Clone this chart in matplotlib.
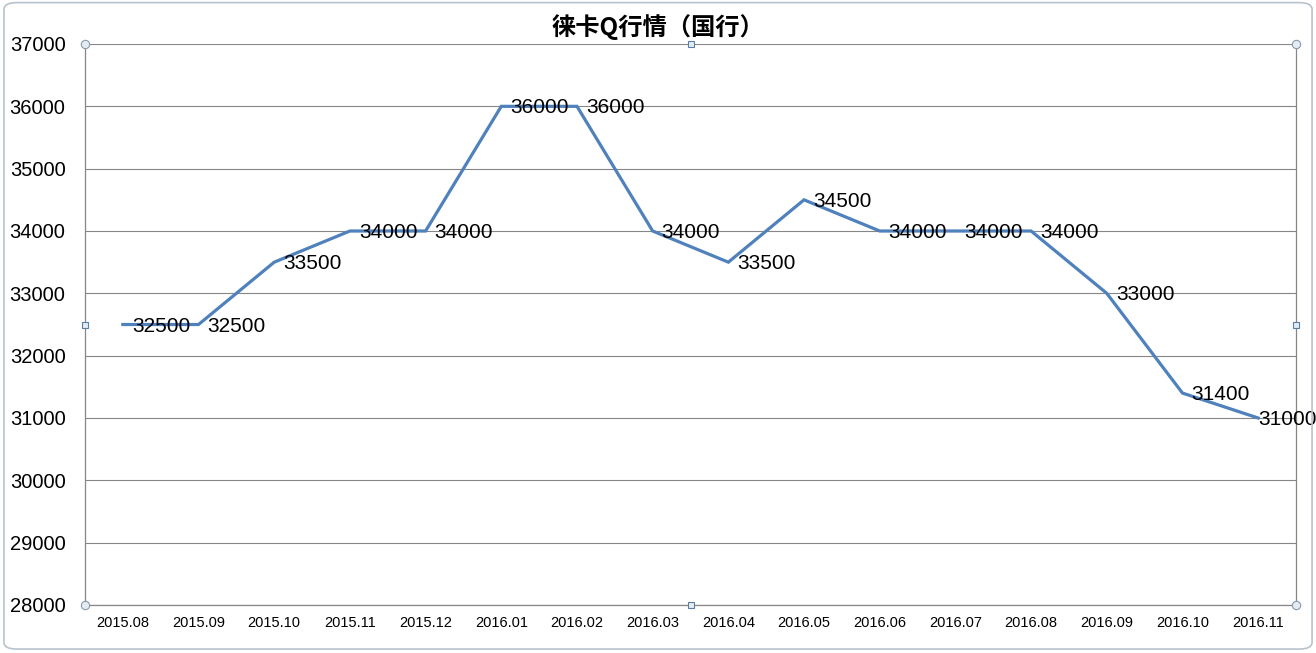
import matplotlib
matplotlib.use("Agg")
import matplotlib.pyplot as plt
from matplotlib.patches import FancyBboxPatch

months = ["2015.08", "2015.09", "2015.10", "2015.11", "2015.12", "2016.01",
          "2016.02", "2016.03", "2016.04", "2016.05", "2016.06", "2016.07",
          "2016.08", "2016.09", "2016.10", "2016.11"]
prices = [32500, 32500, 33500, 34000, 34000, 36000, 36000, 34000,
          33500, 34500, 34000, 34000, 34000, 33000, 31400, 31000]
title = "徕卡Q行情（国行）"

plt.rcParams['font.family'] = ['Liberation Sans', 'Noto Sans CJK SC', 'DejaVu Sans']

fig = plt.figure(figsize=(13.16, 6.53), dpi=100)
ax = fig.add_axes([85/1316, 1-605/653, (1296-85)/1316, (605-44)/653])

x = range(len(months))
ax.plot(x, prices, color='#4F81BD', lw=2.3, solid_joinstyle='miter', zorder=3)
for i, v in zip(x, prices):
    # last label gets pushed left so it stays inside the chart, like Excel does
    dx = 6.5 if i < len(months) - 1 else 0
    ax.annotate(str(v), (i, v), xytext=(dx, -1.2), textcoords='offset points',
                ha='left', va='center', fontsize=15, color='black', zorder=4)

ax.set_xlim(-0.5, len(months) - 0.5)
ax.set_ylim(28000, 37000)
ax.set_yticks(range(28000, 37001, 1000))
ax.set_xticks(list(x))
ax.set_xticklabels(months, fontsize=10.5)
ax.tick_params(axis='y', length=0, pad=14, labelsize=14.5)
ax.tick_params(axis='x', length=0, pad=8)
ax.grid(axis='y', color='#868686', lw=0.8)
ax.set_axisbelow(True)
ax.spines['top'].set_visible(False)
for s in ['left', 'right', 'bottom']:
    ax.spines[s].set_color('#868686')
    ax.spines[s].set_linewidth(0.9)

fig.text(0.5, 1-27/653, title, ha='center', va='center', fontsize=17.5,
         fontweight='bold', family=['Noto Sans CJK SC', 'DejaVu Sans'])

# selection handles
for hx, hy in [(0, 0), (0, 1), (1, 0), (1, 1)]:
    ax.plot(hx, hy, 'o', ms=6, mfc='#E4ECF3', mec='#8A9AAA', mew=0.8,
            transform=ax.transAxes, clip_on=False, zorder=5)
for hx, hy in [(0.5, 0), (0.5, 1), (0, 0.5), (1, 0.5)]:
    ax.plot(hx, hy, 's', ms=5, mfc='#E4ECF3', mec='#5A7FA6', mew=0.8,
            transform=ax.transAxes, clip_on=False, zorder=5)

frame = FancyBboxPatch((0.003, 0.006), 0.994, 0.99, boxstyle='round,pad=0,rounding_size=0.01',
                       transform=fig.transFigure, fill=False, ec='#B8C2CC', lw=1.2)
fig.patches.append(frame)

fig.savefig('out.png', dpi=100)
